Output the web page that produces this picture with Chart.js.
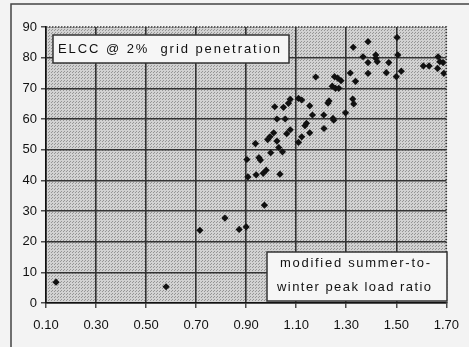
<!DOCTYPE html>
<html>
<head>
<meta charset="utf-8">
<script src="https://cdn.jsdelivr.net/npm/chart.js@4"></script>
<style>
  html, body { margin: 0; padding: 0; background: #f3f3f3; }
  #wrap { width: 469px; height: 347px; position: relative; }
</style>
</head>
<body>
<div id="wrap"><canvas id="elccChart" width="469" height="347"></canvas></div>
<script>
// summer-to-winter peak load ratio (x) and ELCC % (y)
var ratio = [0.14, 0.58, 0.715, 0.815, 0.872, 0.90, 0.973, 0.907, 0.94, 0.968,
  0.98, 1.035, 0.903, 0.951, 0.957, 0.937, 0.998, 1.03, 1.045, 0.986,
  0.995, 1.01, 1.023, 1.062, 1.076, 1.023, 1.056, 1.014, 1.049, 1.069,
  1.076, 1.109, 1.122, 1.154, 1.109, 1.122, 1.154, 1.135, 1.141, 1.165,
  1.21, 1.211, 1.227, 1.231, 1.247, 1.25, 1.297, 1.326, 1.33, 1.178,
  1.253, 1.266, 1.279, 1.244, 1.257, 1.27, 1.316, 1.337, 1.328, 1.387,
  1.367, 1.387, 1.418, 1.424, 1.387, 1.47, 1.503, 1.506, 1.46, 1.50,
  1.52, 1.608, 1.631, 1.667, 1.674, 1.687, 1.665, 1.69, 1.418];
var elcc = [6.8, 5.3, 23.7, 27.7, 24, 24.8, 31.9, 41.1, 41.8, 42.3,
  43.3, 42, 46.8, 47.4, 46.6, 52, 49, 50.7, 49.3, 53.3,
  54.2, 55.5, 52.8, 55.2, 56.5, 60, 60, 64, 63.8, 65.1,
  66.4, 66.7, 66.2, 64.3, 52.4, 54.2, 55.5, 57.8, 58.6, 61.3,
  61.3, 56.9, 65.2, 65.9, 60.2, 59.6, 62, 66.5, 64.9, 73.7,
  73.8, 73.3, 72.5, 70.7, 70, 70, 75, 72.3, 83.4, 85.2,
  80.3, 78.4, 79.8, 78.7, 74.9, 78.4, 86.6, 80.9, 75.1, 73.8,
  75.6, 77.3, 77.3, 80.3, 78.7, 78.4, 76.5, 74.9, 80.9];

var xTicks = [0.10, 0.30, 0.50, 0.70, 0.90, 1.10, 1.30, 1.50, 1.70];
var yTicks = [0, 10, 20, 30, 40, 50, 60, 70, 80, 90];
var titleLabel = 'ELCC @ 2%  grid penetration';
var axisNote = ['modified summer-to-', 'winter peak load ratio'];

var points = [];
for (var i = 0; i < ratio.length; i++) {
  points.push({ x: ratio[i], y: elcc[i] });
}

var tickFamily = "'Liberation Sans Narrow', 'Liberation Sans', Arial, sans-serif";

// stippled grey fill like the old printout
function makeStipple(ctx) {
  var c = document.createElement('canvas');
  c.width = 3; c.height = 3;
  var g = c.getContext('2d');
  g.fillStyle = '#d2d2d2';
  g.fillRect(0, 0, 3, 3);
  g.fillStyle = '#959595';
  g.fillRect(0, 0, 1, 1);
  g.fillRect(1, 2, 1, 1);
  return ctx.createPattern(c, 'repeat');
}

function fitText(ctx, text, x, y, width) {
  ctx.letterSpacing = '0px';
  var w = ctx.measureText(text).width;
  var sp = (width - w) / (text.length - 1);
  ctx.letterSpacing = sp.toFixed(2) + 'px';
  ctx.fillText(text, x, y);
  ctx.letterSpacing = '0px';
}

var decorPlugin = {
  id: 'decor',
  beforeDraw: function(chart) {
    var ctx = chart.ctx, a = chart.chartArea;
    ctx.save();
    // outer frame
    ctx.strokeStyle = '#444';
    ctx.lineWidth = 1.5;
    ctx.strokeRect(11, 4, 600, 500);
    // plot background
    ctx.fillStyle = makeStipple(ctx);
    ctx.fillRect(a.left, a.top, a.right - a.left, a.bottom - a.top);
    ctx.restore();
  },
  afterDraw: function(chart) {
    var ctx = chart.ctx, a = chart.chartArea;
    ctx.save();
    // dotted top and right border
    ctx.strokeStyle = '#333';
    ctx.lineWidth = 1.5;
    ctx.setLineDash([1.5, 1.5]);
    ctx.beginPath();
    ctx.moveTo(a.left, a.top);
    ctx.lineTo(a.right, a.top);
    ctx.lineTo(a.right, a.bottom);
    ctx.stroke();
    ctx.setLineDash([]);

    // text boxes
    ctx.font = "13px 'Liberation Sans', Arial, sans-serif";
    ctx.textBaseline = 'middle';
    ctx.textAlign = 'left';

    ctx.fillStyle = '#f6f6f6';
    ctx.fillRect(53, 35, 236, 28);
    ctx.strokeStyle = '#333';
    ctx.strokeRect(53, 35, 236, 28);
    ctx.fillStyle = '#111';
    fitText(ctx, titleLabel, 58, 49.5, 222);

    ctx.fillStyle = '#f6f6f6';
    ctx.fillRect(267, 252, 180, 49);
    ctx.strokeRect(267, 252, 180, 49);
    ctx.fillStyle = '#111';
    fitText(ctx, axisNote[0], 280, 263, 150);
    fitText(ctx, axisNote[1], 277, 287, 154);
    ctx.restore();
  }
};

var ctx = document.getElementById('elccChart');
var elccChart = new Chart(ctx, {
  type: 'scatter',
  data: {
    datasets: [{
      label: 'ELCC',
      data: points,
      pointStyle: 'rectRot',
      pointRadius: 3.6,
      backgroundColor: '#111',
      borderColor: '#111',
      borderWidth: 0
    }]
  },
  options: {
    responsive: false,
    animation: false,
    layout: { padding: { left: 0, top: 27, right: 18, bottom: 0 } },
    plugins: {
      legend: { display: false },
      tooltip: { enabled: false }
    },
    scales: {
      x: {
        type: 'linear',
        min: 0.1,
        max: 1.7,
        afterBuildTicks: function(scale) {
          scale.ticks = xTicks.map(function(v) { return { value: v }; });
        },
        afterFit: function(scale) { scale.height = 44; },
        ticks: {
          color: '#111',
          font: { family: tickFamily, size: 13 },
          padding: 10,
          maxRotation: 0,
          callback: function(v) { return Number(v).toFixed(2); }
        },
        grid: {
          color: function(c) { return (c.tick && c.tick.value >= 1.7) ? 'rgba(0,0,0,0)' : '#333'; },
          lineWidth: 1.6,
          tickLength: 5,
          tickColor: '#222',
          tickWidth: 1.2
        },
        border: { color: '#111', width: 1.5 }
      },
      y: {
        min: 0,
        max: 90,
        afterBuildTicks: function(scale) {
          scale.ticks = yTicks.map(function(v) { return { value: v }; });
        },
        afterFit: function(scale) { scale.width = 46; },
        ticks: {
          color: '#111',
          font: { family: tickFamily, size: 13 },
          padding: 4
        },
        grid: {
          color: function(c) { return (c.tick && c.tick.value >= 90) ? 'rgba(0,0,0,0)' : '#333'; },
          lineWidth: 1.6,
          tickLength: 5,
          tickColor: '#222',
          tickWidth: 1.2
        },
        border: { color: '#111', width: 1.5 }
      }
    }
  },
  plugins: [decorPlugin]
});
</script>
</body>
</html>
